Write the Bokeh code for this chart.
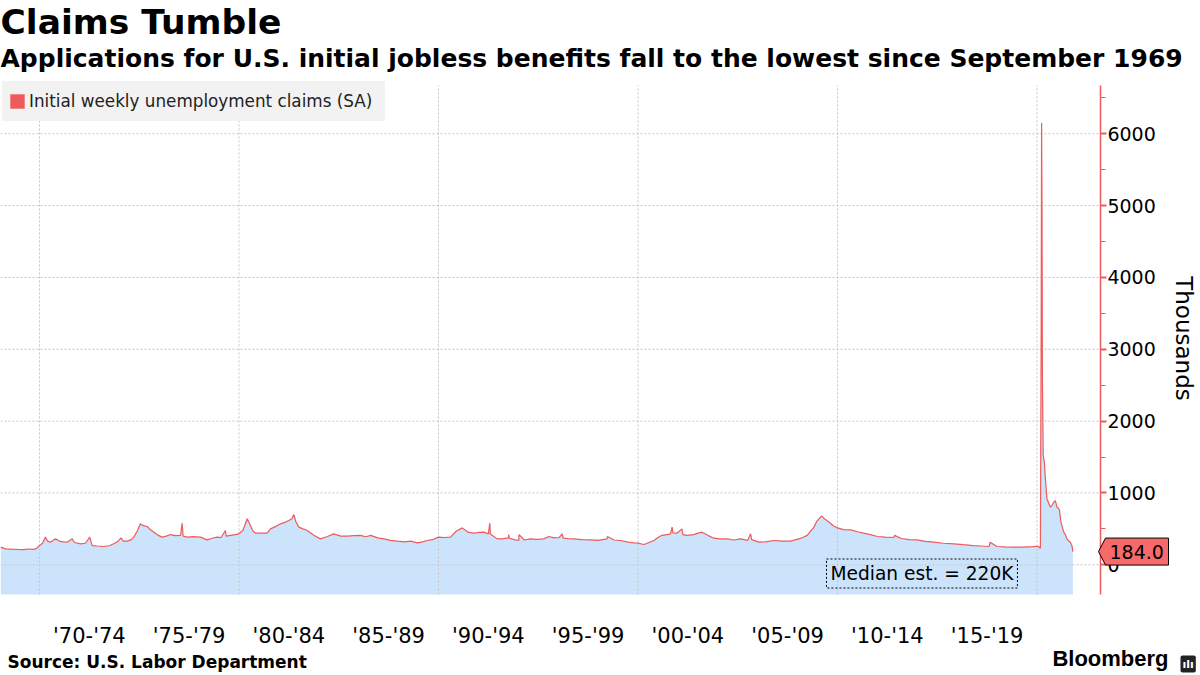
import math
from bokeh.plotting import figure
from bokeh.models import ColumnDataSource, FixedTicker, Label, Legend, LegendItem, Range1d
from bokeh.embed import file_html
from bokeh.resources import INLINE
from bokeh.core.properties import value

# ---------------- data ----------------
years = [1968.05, 1968.3, 1968.6, 1968.88, 1969.2, 1969.45, 1969.71, 1969.85, 1970.0, 1970.15,
         1970.3, 1970.4, 1970.55, 1970.8, 1971.0, 1971.2, 1971.39, 1971.64, 1971.75, 1972.06,
         1972.3, 1972.52, 1972.64, 1972.9, 1973.22, 1973.5, 1973.72, 1973.9, 1974.09, 1974.2,
         1974.4, 1974.6, 1974.73, 1974.9, 1975.06, 1975.2, 1975.4, 1975.55, 1975.73, 1975.95,
         1976.15, 1976.35, 1976.57, 1976.8, 1977.07, 1977.15, 1977.2, 1977.4, 1977.7, 1978.07,
         1978.4, 1978.65, 1978.9, 1979.1, 1979.32, 1979.36, 1979.57, 1979.8, 1979.99, 1980.2,
         1980.41, 1980.55, 1980.7, 1980.83, 1981.1, 1981.41, 1981.58, 1981.85, 1982.08, 1982.3,
         1982.5, 1982.65, 1982.75, 1982.85, 1983.0, 1983.2, 1983.42, 1983.75, 1984.08, 1984.4,
         1984.75, 1985.1, 1985.42, 1985.75, 1986.09, 1986.35, 1986.6, 1986.95, 1987.26, 1987.6,
         1987.93, 1988.3, 1988.6, 1988.93, 1989.2, 1989.43, 1989.75, 1990.0, 1990.3, 1990.6,
         1990.9, 1991.19, 1991.5, 1991.77, 1992.0, 1992.27, 1992.5, 1992.57, 1992.6, 1992.94,
         1993.2, 1993.5, 1993.52, 1993.55, 1993.8, 1994.02, 1994.04, 1994.3, 1994.6, 1994.95,
         1995.27, 1995.53, 1995.8, 1996.05, 1996.2, 1996.25, 1996.5, 1996.78, 1997.2, 1997.62,
         1998.0, 1998.45, 1998.47, 1998.8, 1999.12, 1999.5, 1999.8, 2000.0, 2000.3, 2000.55,
         2000.8, 2001.0, 2001.2, 2001.45, 2001.63, 2001.71, 2001.75, 2001.95, 2002.2, 2002.25,
         2002.45, 2002.8, 2003.0, 2003.2, 2003.5, 2003.8, 2004.1, 2004.47, 2004.8, 2005.14,
         2005.5, 2005.64, 2005.7, 2006.06, 2006.4, 2006.8, 2007.2, 2007.64, 2008.06, 2008.25,
         2008.48, 2008.67, 2008.8, 2008.95, 2009.1, 2009.2, 2009.35, 2009.58, 2009.8, 2010.0,
         2010.3, 2010.67, 2011.0, 2011.3, 2011.65, 2012.0, 2012.4, 2012.83, 2012.86, 2013.2,
         2013.6, 2013.99, 2014.4, 2014.83, 2015.3, 2015.84, 2016.3, 2016.8, 2017.2, 2017.6,
         2017.65, 2017.99, 2018.4, 2018.8, 2019.3, 2019.8, 2020.05, 2020.17, 2020.21, 2020.23,
         2020.25, 2020.27, 2020.31, 2020.37, 2020.42, 2020.5, 2020.6, 2020.67, 2020.76, 2020.84,
         2020.92, 2021.0, 2021.07, 2021.13, 2021.2, 2021.34, 2021.42, 2021.5, 2021.6, 2021.67,
         2021.75, 2021.8]
claims = [246, 222, 218, 215, 212, 220, 215, 228, 268, 300,
          385, 330, 315, 361, 330, 320, 315, 361, 310, 292,
          300, 385, 268, 262, 255, 265, 292, 320, 375, 330,
          329, 350, 385, 470, 570, 545, 533, 490, 454, 410,
          385, 400, 421, 405, 410, 579, 400, 385, 392, 385,
          347, 370, 385, 380, 477, 400, 410, 420, 431, 480,
          640, 560, 470, 440, 440, 440, 500, 535, 570, 590,
          616, 640, 699, 600, 524, 500, 477, 410, 361, 390,
          431, 400, 398, 405, 410, 390, 410, 375, 361, 340,
          329, 320, 329, 306, 320, 338, 355, 385, 380, 385,
          470, 514, 450, 440, 450, 454, 431, 579, 430, 361,
          360, 375, 421, 370, 350, 338, 421, 345, 361, 355,
          361, 394, 375, 380, 431, 370, 365, 361, 350, 347,
          340, 361, 394, 345, 338, 315, 305, 301, 282, 310,
          338, 380, 410, 420, 431, 524, 445, 440, 500, 420,
          410, 420, 440, 454, 410, 370, 360, 361, 345, 361,
          340, 431, 350, 315, 320, 338, 330, 329, 361, 380,
          410, 477, 514, 600, 650, 680, 640, 593, 540, 514,
          490, 486, 460, 440, 420, 394, 385, 380, 410, 366,
          350, 347, 325, 315, 300, 292, 280, 268, 262, 255,
          315, 255, 250, 246, 245, 252, 258, 230, 3300, 6150,
          5000, 2631, 1519, 1427, 1195, 917, 850, 802, 830, 872,
          894, 802, 790, 755, 593, 454, 420, 361, 330, 315,
          268, 184]

period_ticks = [1972.5, 1977.5, 1982.5, 1987.5, 1992.5, 1997.5, 2002.5, 2007.5, 2012.5, 2017.5]
period_labels = ["'70-'74", "'75-'79", "'80-'84", "'85-'89", "'90-'94",
                 "'95-'99", "'00-'04", "'05-'09", "'10-'14", "'15-'19"]
decade_lines = [1970, 1980, 1990, 2000, 2010, 2020]
value_ticks = [0, 1000, 2000, 3000, 4000, 5000, 6000]
value_minor = [500, 1500, 2500, 3500, 4500, 5500, 6500]
latest_value = claims[-1]
median_label = "Median est. = 220K"

title_text = "Claims Tumble"
subtitle_text = "Applications for U.S. initial jobless benefits fall to the lowest since September 1969"
series_name = "Initial weekly unemployment claims (SA)"
source_text = "Source: U.S. Labor Department"
axis_title = "Thousands"

# ---------------- styles / geometry ----------------
RED = "#EF5A5A"
TAG_RED = "#F86A6A"
BLUE = "#CCE4FB"
GRID = "#C4C4C4"
LEGEND_BG = "#F2F2F2"
FONT = "DejaVu Sans"

W, H = 1200, 675
# full-canvas frame; the chart area itself is a sub-region of it
X0, X1 = 1968.045, 2028.195       # canvas left/right edges
Y0, Y1 = -1541, 7855              # canvas bottom/top edges
AXIS_X = 2023.18                  # value axis location
PLOT_BOTTOM, PLOT_TOP = -413, 6672


def px_x(px):
    return X0 + px * (X1 - X0) / W


def px_dy(dpx):
    return dpx * (Y1 - Y0) / H


def sy(ref_y):
    return H - ref_y


def baseline(ref_y, size):
    # Bokeh sets the alphabetic anchor a little below the glyph baseline
    return H - (ref_y - 0.4 * size)


p = figure(width=W, height=H, output_backend="svg", toolbar_location=None,
           x_range=Range1d(X0, X1), y_range=Range1d(Y0, Y1), y_axis_location="right",
           min_border=0, min_border_left=0, min_border_right=0,
           min_border_top=0, min_border_bottom=0)
p.outline_line_color = None
p.background_fill_color = "white"
p.border_fill_color = "white"
p.xgrid.visible = False
p.ygrid.visible = False

src = ColumnDataSource(dict(x=years, y=claims, base=[PLOT_BOTTOM] * len(years)))
p.varea(x="x", y1="base", y2="y", source=src, fill_color=BLUE, fill_alpha=1)

# grid lines limited to the chart area
p.segment(x0=decade_lines, x1=decade_lines, y0=[PLOT_BOTTOM] * len(decade_lines),
          y1=[PLOT_TOP] * len(decade_lines), line_color=GRID, line_dash="2 2", line_width=1)
p.segment(x0=[X0] * len(value_ticks), x1=[AXIS_X] * len(value_ticks), y0=value_ticks,
          y1=value_ticks, line_color=GRID, line_dash="2 2", line_width=1)

p.line(x="x", y="y", source=src, line_color=RED, line_width=1.2)

# x axis (fixed at bottom of chart area)
xa = p.xaxis[0]
xa.fixed_location = PLOT_BOTTOM
xa.ticker = FixedTicker(ticks=period_ticks)
xa.major_label_overrides = {t: l for t, l in zip(period_ticks, period_labels)}
xa.axis_line_color = None
xa.major_tick_line_color = None
xa.minor_tick_line_color = None
xa.major_tick_out = 0
xa.major_tick_in = 0
xa.major_label_standoff = 30
xa.major_label_text_font = FONT
xa.major_label_text_font_size = "21px"
xa.major_label_text_color = "black"

# y axis (right, fixed at chart-area right edge)
ya = p.yaxis[0]
ya.fixed_location = AXIS_X
ya.bounds = (PLOT_BOTTOM, PLOT_TOP)
ya.ticker = FixedTicker(ticks=value_ticks, minor_ticks=value_minor)
ya.axis_line_color = RED
ya.axis_line_width = 1.5
ya.major_tick_line_color = RED
ya.major_tick_line_width = 2
ya.major_tick_in = 0
ya.major_tick_out = 6
ya.minor_tick_line_color = RED
ya.minor_tick_in = 0
ya.minor_tick_out = 5
ya.major_label_standoff = 1
ya.major_label_text_font = FONT
ya.major_label_text_font_size = "19px"
ya.major_label_text_color = "black"

# legend (zero-size quad gives the red square swatch)
swatch = p.quad(left=[years[0]], right=[years[0]], top=[claims[0]], bottom=[claims[0]],
                fill_color=RED, line_color=None)
legend = Legend(items=[LegendItem(label=series_name, renderers=[swatch])],
                location=(2, H - 121), margin=0, padding=5, glyph_width=18, glyph_height=18,
                label_standoff=3, background_fill_color=LEGEND_BG, background_fill_alpha=1,
                border_line_color=LEGEND_BG, border_line_alpha=1, border_line_width=1,
                label_text_font=FONT, label_text_font_size="16.8px",
                label_text_color="#222222", label_height=28, label_width=350)
p.add_layout(legend)

# titles and notes
p.add_layout(Label(x=0, y=baseline(35, 34.5), x_units="screen", y_units="screen", text=title_text,
                   text_font=FONT, text_font_style="bold", text_font_size="34.5px",
                   text_baseline="alphabetic", text_color="black"))
p.add_layout(Label(x=0, y=baseline(68, 25), x_units="screen", y_units="screen", text=subtitle_text,
                   text_font=FONT, text_font_style="bold", text_font_size="25px",
                   text_baseline="alphabetic", text_color="black"))
p.add_layout(Label(x=7, y=baseline(668, 17), x_units="screen", y_units="screen", text=source_text,
                   text_font=FONT, text_font_style="bold", text_font_size="17px",
                   text_baseline="alphabetic", text_color="black"))
p.add_layout(Label(x=1168, y=baseline(667, 22), x_units="screen", y_units="screen", text="Bloomberg",
                   text_font="Liberation Sans", text_font_style="bold", text_font_size="22px",
                   text_align="right", text_baseline="alphabetic", text_color="black"))
p.add_layout(Label(x=1180, y=baseline(668, 11), x_units="screen", y_units="screen", text="ılı",
                   text_font=FONT, text_font_style="bold", text_font_size="11px",
                   text_align="left", text_baseline="alphabetic", text_color="white",
                   background_fill_color="#222222", padding=2, border_radius=2))
p.add_layout(Label(x=1183, y=sy(338), x_units="screen", y_units="screen", text=axis_title,
                   text_font=FONT, text_font_size="23px", angle=-math.pi / 2,
                   text_align="center", text_baseline="middle", text_color="black"))
p.add_layout(Label(x=826, y=sy(573), x_units="screen", y_units="screen", text=median_label,
                   text_font=FONT, text_font_size="18.6px", text_align="left",
                   text_baseline="middle", text_color="black", padding=4,
                   border_line_color="black", border_line_dash="2 2", border_line_width=1))

# latest-value tag on the value axis
half = px_dy(13.5)
tag_xs = [px_x(1105), px_x(1168), px_x(1168), px_x(1105), px_x(1098)]
tag_ys = [latest_value + half, latest_value + half, latest_value - half,
          latest_value - half, latest_value]
p.patch(tag_xs, tag_ys, fill_color=TAG_RED, line_color="black", line_width=1, level="overlay")
p.text(x=[px_x(1109)], y=[latest_value], text=[f"{latest_value:.1f}"],
       text_font=value(FONT), text_font_size="19px", text_baseline="middle",
       text_align="left", text_color="black", level="overlay")

open("out.html", "w").write(file_html(p, INLINE))
